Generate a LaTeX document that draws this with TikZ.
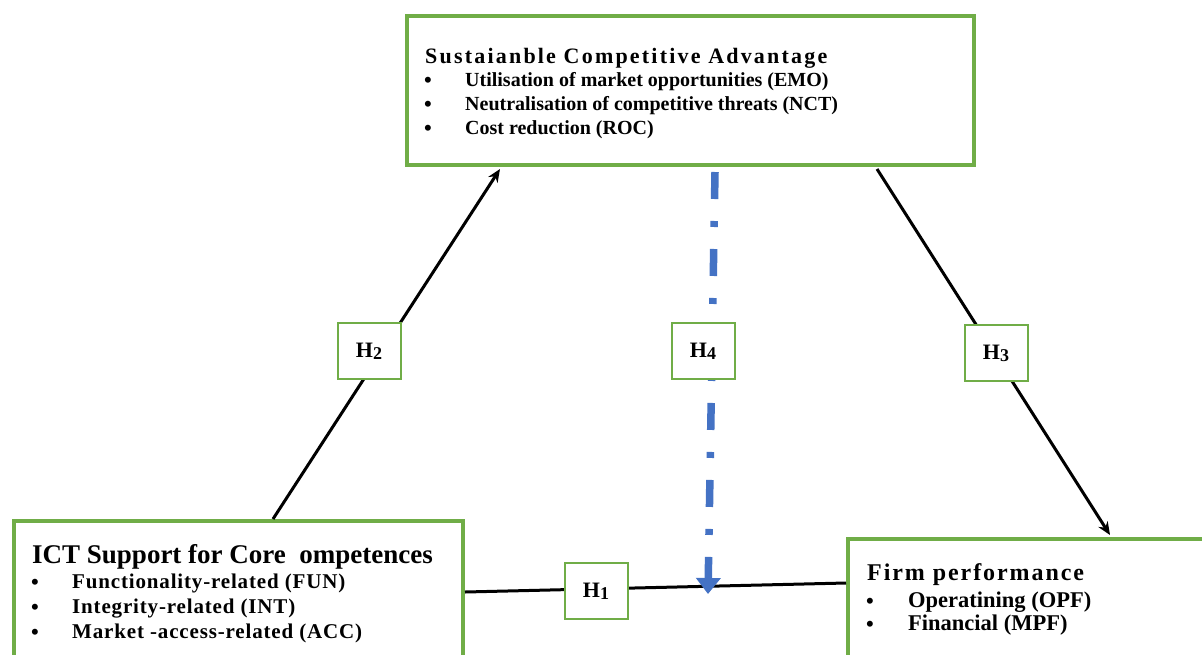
\documentclass[tikz,border=0pt]{standalone}
\usepackage{fontspec}
\setmainfont{Liberation Serif}
\usetikzlibrary{arrows.meta,calc}
\definecolor{boxgreen}{RGB}{112,173,71}
\definecolor{hblue}{RGB}{68,114,196}
\tikzset{
  bigbox/.style={draw=boxgreen, line width=4pt, fill=white, inner sep=0pt, anchor=north west},
  hbox/.style={draw=boxgreen, line width=2pt, fill=white, minimum width=63pt, minimum height=56pt, inner sep=0pt, font=\bfseries\fontsize{22}{24}\selectfont},
  ttl/.style={anchor=base west, inner sep=0pt},
  itm/.style={anchor=base west, inner sep=0pt, font=\bfseries\fontsize{20}{22}\selectfont},
  itmb/.style={anchor=base west, inner sep=0pt, font=\bfseries\fontsize{21}{24}\selectfont\addfontfeature{LetterSpace=4}},
  itmc/.style={anchor=base west, inner sep=0pt, font=\bfseries\fontsize{22.5}{24}\selectfont},
  blt/.style={anchor=base west, inner sep=0pt, font=\bfseries\fontsize{22}{24}\selectfont},
  conn/.style={line width=3pt, -{Stealth[length=13pt,width=11pt]}},
  plain/.style={line width=3pt},
  dashconn/.style={hblue, line width=7.5pt, dash pattern=on 27pt off 22pt on 6pt off 22pt, -{Triangle[length=16pt,width=24pt]}}
}
\newcommand{\hsub}[1]{H\raisebox{-2pt}{\fontsize{18}{18}\selectfont #1}}
\begin{document}
\begin{tikzpicture}[x=1pt,y=-1pt]
\useasboundingbox (0,0) rectangle (1202,654);
% boxes
\node[bigbox, minimum width=567pt, minimum height=149pt] (sca) at (405,14) {};
\node[bigbox, minimum width=449pt, minimum height=160pt] (icp) at (12,519) {};
\node[bigbox, minimum width=380pt, minimum height=140pt] (fp) at (846,537) {};
% connectors
\draw[conn] ($(icp.north west)+(261,0)$) -- ($(sca.south west)+(95,2)$);
\draw[conn] ($(sca.south east)+(-99,2)$) -- ($(fp.north west)+(264,-2)$);
\draw[plain] ($(icp.north east)+(0,73)$) -- ($(fp.north west)+(0,46)$);
\draw[dashconn] ($(sca.south west)+(310,5)$) -- ($(sca.south west)+(303,427)$);
% hypothesis boxes
\node[hbox] (h2) at (369,351) {\hsub{2}};
\node[hbox] (h4) at (703,351) {\hsub{4}};
\node[hbox] (h3) at (996,353) {\hsub{3}};
\node[hbox] (h1) at (596,591) {\hsub{1}};
% texts top
\node[ttl, font=\bfseries\fontsize{22}{24}\selectfont\addfontfeature{LetterSpace=10}] (t1) at (425,63) {Sustaianble Competitive Advantage};
\node[blt] (b11) at (424,87) {•};
\node[itm] (i11) at (465,86) {Utilisation of market opportunities (EMO)};
\node[blt] (b12) at (424,111) {•};
\node[itm] (i12) at (465,110) {Neutralisation of competitive threats (NCT)};
\node[blt] (b13) at (424,135) {•};
\node[itm] (i13) at (465,134) {Cost reduction (ROC)};
% texts left
\node[ttl, font=\bfseries\fontsize{27}{30}\selectfont] (t2) at (32,563) {ICT Support for Core\ \ ompetences};
\node[blt] (b21) at (31,589) {•};
\node[itmb] (i21) at (72,588) {Functionality-related (FUN)};
\node[blt] (b22) at (31,614) {•};
\node[itmb] (i22) at (72,613) {Integrity-related (INT)};
\node[blt] (b23) at (31,639) {•};
\node[itmb] (i23) at (72,638) {Market -access-related (ACC)};
% texts right
\node[ttl, font=\bfseries\fontsize{24}{26}\selectfont\addfontfeature{LetterSpace=8}] (t3) at (867,580) {Firm performance};
\node[blt] (b31) at (866,608) {•};
\node[itmc] (i31) at (908,607) {Operatining (OPF)};
\node[blt] (b32) at (866,631) {•};
\node[itmc] (i32) at (908,630) {Financial (MPF)};
\end{tikzpicture}
\end{document}
